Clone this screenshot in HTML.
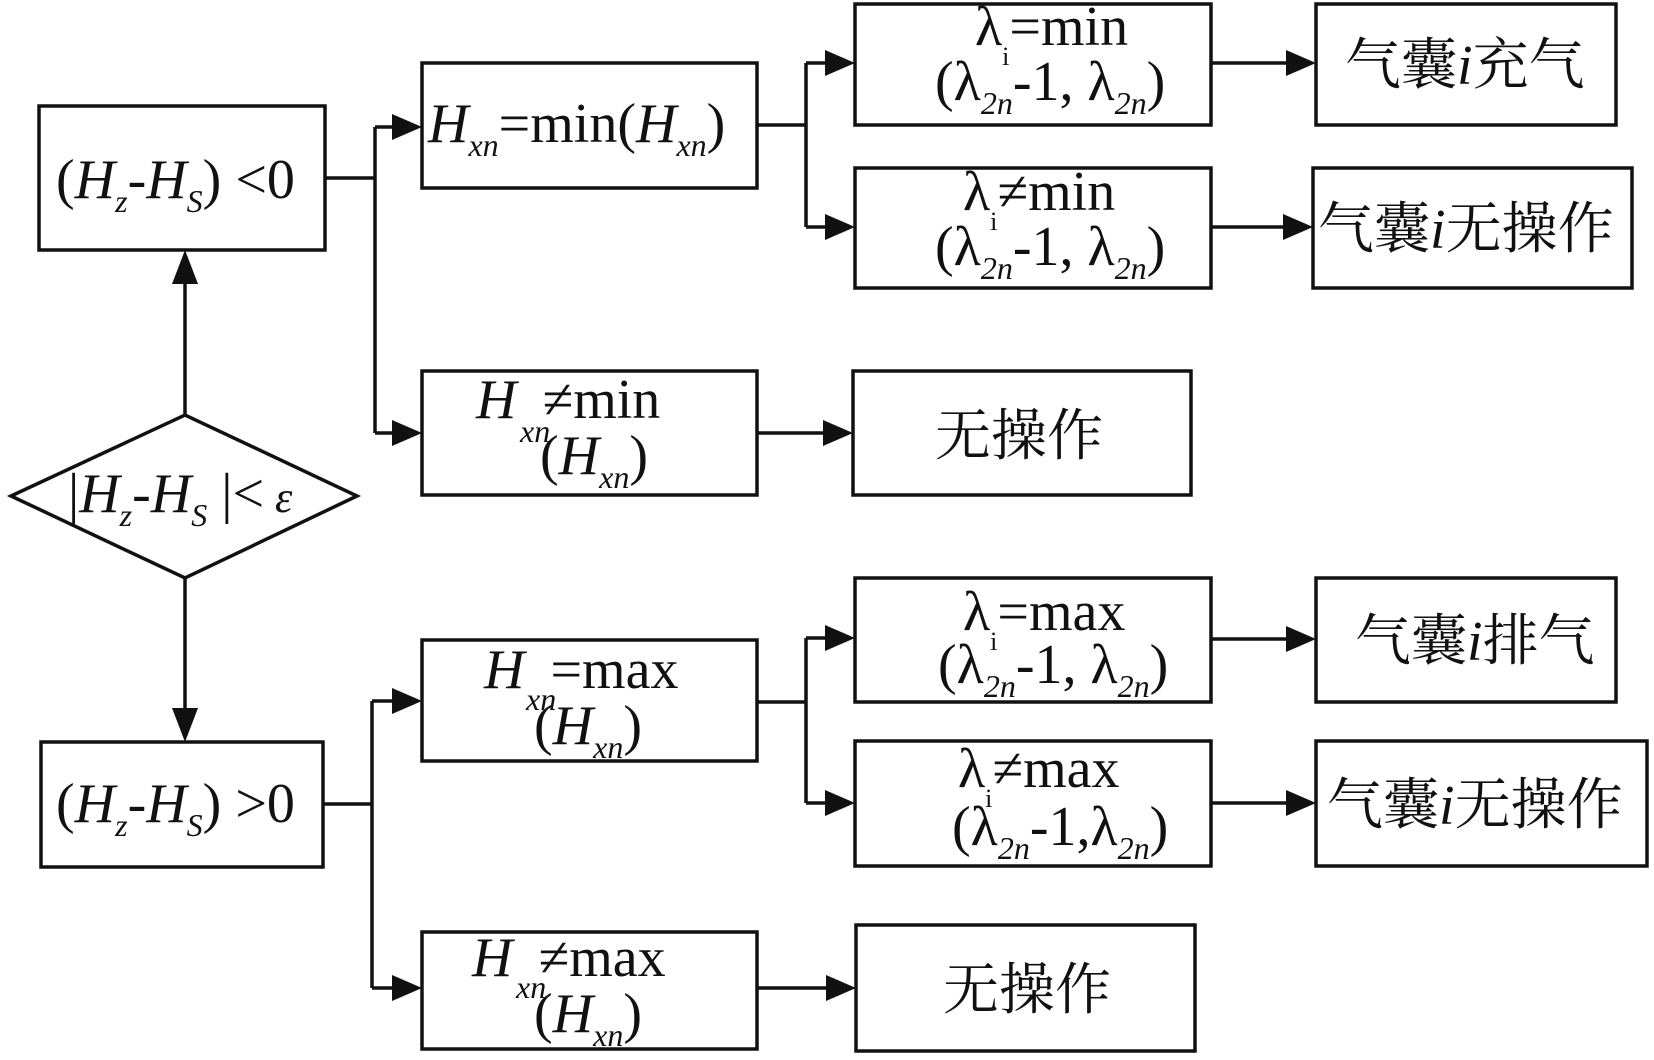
<!DOCTYPE html>
<html><head><meta charset="utf-8"><style>
html,body{margin:0;padding:0;background:#fff;}
svg{display:block;}
text{font-family:"Liberation Serif","Times New Roman","DejaVu Serif","Noto Serif CJK SC",serif;fill:#111;}
.c{font-family:"Liberation Serif","Noto Serif CJK SC","Noto Sans CJK SC",serif;}
</style></head><body>
<svg width="1654" height="1060" viewBox="0 0 1654 1060" xmlns="http://www.w3.org/2000/svg">
<g fill="none" stroke="#111" stroke-width="3.5">
<rect x="39" y="106" width="286" height="144"/>
<rect x="41" y="742" width="282" height="125"/>
<polygon points="11,496 185,415 357,496 185,578"/>
<rect x="422" y="63" width="335" height="125"/>
<rect x="422" y="371" width="335" height="124"/>
<rect x="422" y="640" width="335" height="121"/>
<rect x="422" y="932" width="335" height="117"/>
<rect x="855" y="4" width="356" height="121"/>
<rect x="855" y="168" width="356" height="120"/>
<rect x="855" y="578" width="356" height="124"/>
<rect x="855" y="741" width="356" height="125"/>
<rect x="1316" y="4" width="300" height="121"/>
<rect x="1313" y="168" width="319" height="120"/>
<rect x="1316" y="578" width="300" height="124"/>
<rect x="1316" y="741" width="331" height="125"/>
<rect x="853" y="371" width="338" height="124"/>
<rect x="856" y="925" width="339" height="126"/>
<polyline points="185,415 185,280"/>
<polyline points="185,578 185,712"/>
<polyline points="325,178 375,178"/>
<polyline points="375,127 375,433"/>
<polyline points="375,127 397,127"/><polyline points="375,433 397,433"/>
<polyline points="323,804 372,804"/>
<polyline points="372,701 372,988"/>
<polyline points="372,701 397,701"/><polyline points="372,988 397,988"/>
<polyline points="757,125 806,125"/>
<polyline points="806,63 806,227"/>
<polyline points="806,63 830,63"/><polyline points="806,227 830,227"/>
<polyline points="757,702 806,702"/>
<polyline points="806,638 806,803"/>
<polyline points="806,638 830,638"/><polyline points="806,803 830,803"/>
<polyline points="1211,63 1290,63"/><polyline points="1211,227 1287,227"/>
<polyline points="1211,639 1290,639"/><polyline points="1211,803 1290,803"/>
<polyline points="757,433 828,433"/><polyline points="757,988 831,988"/>
</g>
<g fill="#111">
<path d="M185,250 L172,284 L198,284z"/>
<path d="M185,742 L172,708 L198,708z"/>
<path d="M422,127 L392,114 L392,140z"/><path d="M422,433 L392,420 L392,446z"/>
<path d="M422,701 L392,688 L392,714z"/><path d="M422,988 L392,975 L392,1001z"/>
<path d="M855,63 L825,50 L825,76z"/><path d="M855,227 L825,214 L825,240z"/>
<path d="M855,638 L825,625 L825,651z"/><path d="M855,803 L825,790 L825,816z"/>
<path d="M1316,63 L1286,50 L1286,76z"/><path d="M1313,227 L1283,214 L1283,240z"/>
<path d="M1316,639 L1286,626 L1286,652z"/><path d="M1316,803 L1286,790 L1286,816z"/>
<path d="M853,433 L823,420 L823,446z"/><path d="M856,988 L826,975 L826,1001z"/>
</g>
<g font-size="56">
<text x="56" y="198">(<tspan font-style="italic">H</tspan><tspan font-style="italic" font-size="32" dy="14">z</tspan><tspan dy="-14">-</tspan><tspan font-style="italic">H</tspan><tspan font-style="italic" font-size="32" dy="14">S</tspan><tspan dy="-14">) &lt;0</tspan></text>
<text x="56" y="822">(<tspan font-style="italic">H</tspan><tspan font-style="italic" font-size="32" dy="14">z</tspan><tspan dy="-14">-</tspan><tspan font-style="italic">H</tspan><tspan font-style="italic" font-size="32" dy="14">S</tspan><tspan dy="-14">) &gt;0</tspan></text>
<text x="68" y="512">|<tspan font-style="italic">H</tspan><tspan font-style="italic" font-size="32" dy="14">z</tspan><tspan dy="-14">-</tspan><tspan font-style="italic">H</tspan><tspan font-style="italic" font-size="32" dy="14">S</tspan><tspan dy="-14"> |&lt;</tspan><tspan font-style="italic" font-size="44"> ε</tspan></text>
<text x="428" y="142"><tspan font-style="italic">H</tspan><tspan font-style="italic" font-size="32" dy="14">xn</tspan><tspan dy="-14">=min(</tspan><tspan font-style="italic">H</tspan><tspan font-style="italic" font-size="32" dy="14">xn</tspan><tspan dy="-14">)</tspan></text>
<text x="476" y="418"><tspan font-style="italic">H</tspan><tspan dx="26">≠min</tspan></text>
<text x="520" y="442" font-style="italic" font-size="32">xn</text>
<text x="540" y="474">(<tspan font-style="italic">H</tspan><tspan font-style="italic" font-size="32" dy="14">xn</tspan><tspan dy="-14">)</tspan></text>
<text x="484" y="688"><tspan font-style="italic">H</tspan><tspan dx="26">=max</tspan></text>
<text x="526" y="710" font-style="italic" font-size="32">xn</text>
<text x="534" y="744">(<tspan font-style="italic">H</tspan><tspan font-style="italic" font-size="32" dy="14">xn</tspan><tspan dy="-14">)</tspan></text>
<text x="472" y="976"><tspan font-style="italic">H</tspan><tspan dx="26">≠max</tspan></text>
<text x="516" y="998" font-style="italic" font-size="32">xn</text>
<text x="534" y="1032">(<tspan font-style="italic">H</tspan><tspan font-style="italic" font-size="32" dy="14">xn</tspan><tspan dy="-14">)</tspan></text>
<text x="975" y="45">λ<tspan font-size="26" dy="20">i</tspan><tspan dy="-20">=min</tspan></text>
<text x="935" y="100">(λ<tspan font-size="32" dy="14" font-style="italic">2n</tspan><tspan dy="-14">-1, λ</tspan><tspan font-size="32" dy="14" font-style="italic">2n</tspan><tspan dy="-14">)</tspan></text>
<text x="963" y="210">λ<tspan font-size="26" dy="20">i</tspan><tspan dy="-20">≠min</tspan></text>
<text x="935" y="265">(λ<tspan font-size="32" dy="14" font-style="italic">2n</tspan><tspan dy="-14">-1, λ</tspan><tspan font-size="32" dy="14" font-style="italic">2n</tspan><tspan dy="-14">)</tspan></text>
<text x="963" y="630">λ<tspan font-size="26" dy="20">i</tspan><tspan dy="-20">=max</tspan></text>
<text x="938" y="683">(λ<tspan font-size="32" dy="14" font-style="italic">2n</tspan><tspan dy="-14">-1, λ</tspan><tspan font-size="32" dy="14" font-style="italic">2n</tspan><tspan dy="-14">)</tspan></text>
<text x="958" y="787">λ<tspan font-size="26" dy="20">i</tspan><tspan dy="-20">≠max</tspan></text>
<text x="952" y="845">(λ<tspan font-size="32" dy="14" font-style="italic">2n</tspan><tspan dy="-14">-1,λ</tspan><tspan font-size="32" dy="14" font-style="italic">2n</tspan><tspan dy="-14">)</tspan></text>
<text class="c" x="1345" y="84">气囊<tspan font-style="italic">i</tspan>充气</text>
<text class="c" x="1318" y="248">气囊<tspan font-style="italic">i</tspan>无操作</text>
<text class="c" x="1355" y="660">气囊<tspan font-style="italic">i</tspan>排气</text>
<text class="c" x="1327" y="824">气囊<tspan font-style="italic">i</tspan>无操作</text>
<text class="c" x="935" y="455">无操作</text>
<text class="c" x="943" y="1009">无操作</text>
</g>
</svg>
</body></html>
